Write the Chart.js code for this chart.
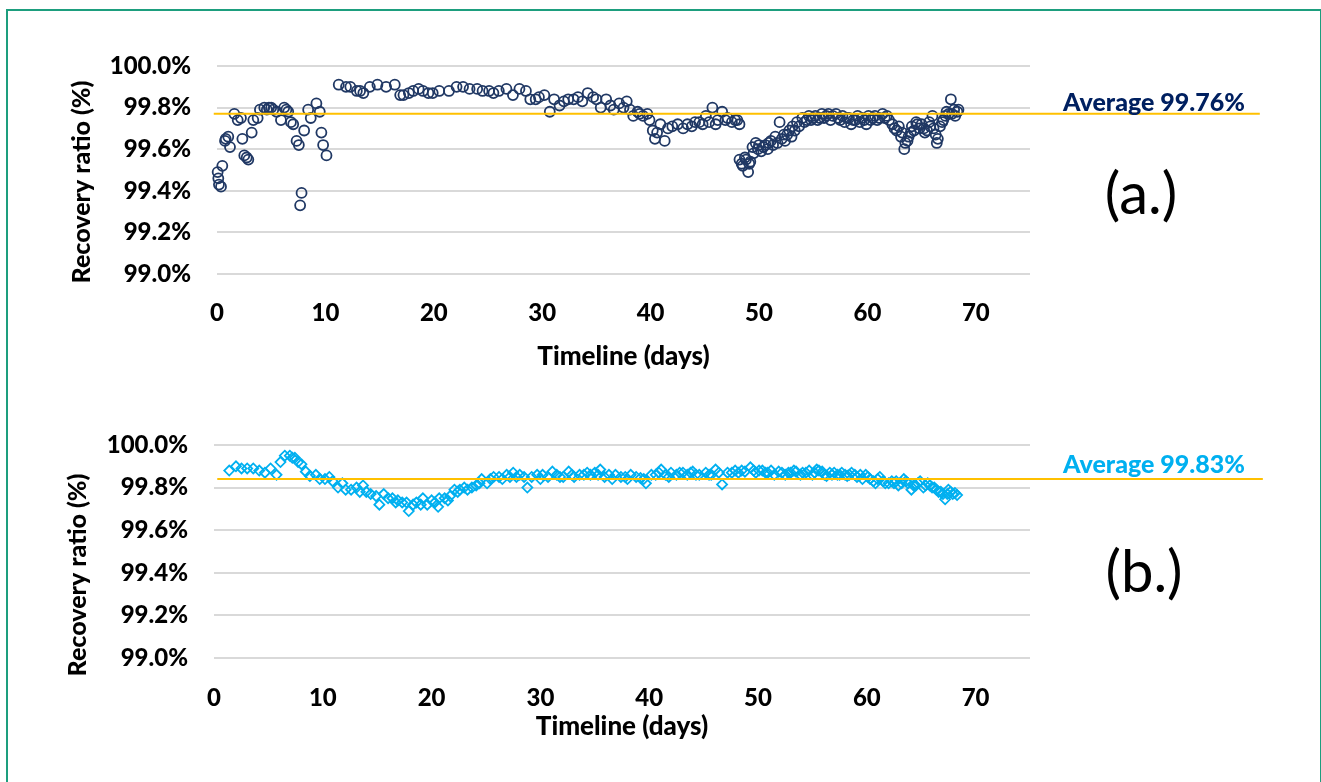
<!DOCTYPE html>
<html>
<head>
<meta charset="utf-8">
<script src="https://cdn.jsdelivr.net/npm/chart.js@4"></script>
<style>
  html, body { margin: 0; padding: 0; background: #fff; overflow: hidden; }
  #frame { position: absolute; left: 6px; top: 9px; width: 1316px; height: 800px; border: 2px solid #1d9e7e; box-sizing: border-box; }
  canvas { position: absolute; left: 0; }
  #chartA { top: 0; }
  #chartB { top: 380px; }
</style>
</head>
<body>
<div id="frame"></div>
<canvas id="chartA" width="1321" height="380"></canvas>
<canvas id="chartB" width="1321" height="402"></canvas>
<script>
// ticks
const xTicks = [0, 10, 20, 30, 40, 50, 60, 70];
const yTicks = [99.0, 99.2, 99.4, 99.6, 99.8, 100.0];

// (a.) recovery ratio, days vs %
const daysA = [
  0.06, 0.12, 0.18, 0.37, 0.49, 0.74, 0.80, 1.04, 1.20, 1.60, 1.91, 2.21, 2.34, 2.52, 2.74, 2.89,
  3.20, 3.35, 3.75, 3.96, 4.36, 4.60, 4.79, 5.00, 5.19, 5.50, 5.90, 6.20, 6.40, 6.57, 6.82, 7.03,
  7.34, 7.55, 7.67, 7.80, 8.04, 8.41, 8.65, 9.17, 9.48, 9.63, 9.79, 10.10,
  11.23, 11.9, 12.3, 12.9, 13.2, 13.5, 14.1, 14.8, 15.6, 16.4, 16.9, 17.2, 17.7, 18.1, 18.6, 19.0,
  19.5, 19.9, 20.5, 21.4, 22.1, 22.7, 23.3, 24.0, 24.5, 25.1, 25.5, 26.0, 26.7, 27.3, 27.9, 28.5,
  28.9, 29.4, 29.7, 30.2, 30.7, 31.1, 31.6, 32.0, 32.4, 32.9, 33.3, 33.7, 34.2, 34.7, 35.0, 35.4,
  35.9, 36.3, 36.6, 37.1, 37.5, 37.8, 38.1, 38.4, 38.8, 39.0, 39.3, 39.7, 39.9, 40.2, 40.4, 40.6,
  40.9, 41.3, 41.6, 42.0, 42.5, 43.0, 43.4, 43.8, 44.1, 44.5, 44.8, 45.1, 45.4, 45.7, 46.0, 46.2,
  46.6, 46.9, 47.1, 47.5, 47.8, 48.0, 48.2,
  48.2, 48.4, 48.5, 48.7, 48.8, 49.0, 49.1, 49.2, 49.4, 49.5, 49.7, 49.9, 50.0, 50.2, 50.4, 50.6,
  50.8, 50.9, 51.1, 51.3, 51.5, 51.7, 51.9, 52.1, 52.3, 52.4, 52.6, 52.8, 53.0, 53.1, 53.3, 53.5,
  53.7, 54.0, 54.2, 54.4, 54.6, 54.8, 55.0, 55.2, 55.4, 55.6, 55.8, 56.0, 56.2, 56.4, 56.6, 56.8,
  57.1, 57.3, 57.5, 57.7, 57.9, 58.1, 58.3, 58.5, 58.7, 58.9, 59.1, 59.3, 59.5, 59.7, 59.9, 60.1,
  60.3, 60.5, 60.7, 60.9, 61.1, 61.4, 61.6, 61.8, 62.0, 62.3, 62.5, 62.7, 62.9, 63.1, 63.2, 63.4,
  63.5, 63.7, 63.8, 64.0, 64.1, 64.3, 64.5, 64.6, 64.8, 65.0, 65.2, 65.3, 65.5, 65.7, 65.8, 66.0,
  66.1, 66.3, 66.4, 66.5, 66.7, 66.9, 67.0, 67.2, 67.3, 67.5, 67.7, 67.8, 68.0, 68.1, 68.3, 68.4
];
const ratioA = [
  99.49, 99.46, 99.43, 99.42, 99.52, 99.64, 99.65, 99.66, 99.61, 99.77, 99.74, 99.75, 99.65, 99.57, 99.56, 99.55,
  99.68, 99.74, 99.75, 99.79, 99.80, 99.79, 99.80, 99.80, 99.79, 99.78, 99.74, 99.80, 99.79, 99.78, 99.73, 99.72,
  99.64, 99.62, 99.33, 99.39, 99.69, 99.79, 99.75, 99.82, 99.78, 99.68, 99.62, 99.57,
  99.91, 99.90, 99.90, 99.88, 99.88, 99.87, 99.90, 99.91, 99.90, 99.91, 99.86, 99.86, 99.87, 99.88, 99.89, 99.88,
  99.87, 99.87, 99.88, 99.88, 99.90, 99.90, 99.89, 99.89, 99.88, 99.88, 99.87, 99.88, 99.89, 99.86, 99.89, 99.88,
  99.84, 99.84, 99.85, 99.86, 99.78, 99.84, 99.81, 99.83, 99.84, 99.84, 99.85, 99.83, 99.87, 99.85, 99.84, 99.80,
  99.84, 99.81, 99.79, 99.82, 99.80, 99.83, 99.79, 99.76, 99.78, 99.77, 99.76, 99.77, 99.74, 99.69, 99.65, 99.68,
  99.72, 99.64, 99.70, 99.71, 99.72, 99.70, 99.72, 99.71, 99.73, 99.73, 99.72, 99.76, 99.73, 99.80, 99.72, 99.74,
  99.78, 99.74, 99.75, 99.73, 99.74, 99.74, 99.72,
  99.55, 99.53, 99.52, 99.56, 99.55, 99.49, 99.53, 99.54, 99.61, 99.58, 99.63, 99.60, 99.62, 99.59, 99.61, 99.62,
  99.60, 99.63, 99.64, 99.62, 99.66, 99.63, 99.73, 99.65, 99.67, 99.64, 99.67, 99.69, 99.66, 99.71, 99.69, 99.73,
  99.71, 99.75, 99.73, 99.74, 99.76, 99.74, 99.75, 99.76, 99.74, 99.75, 99.77, 99.75, 99.76, 99.77, 99.74, 99.76,
  99.77, 99.75, 99.74, 99.76, 99.73, 99.75, 99.75, 99.72, 99.74, 99.74, 99.76, 99.73, 99.75, 99.74, 99.72, 99.76,
  99.74, 99.75, 99.76, 99.74, 99.75, 99.77, 99.75, 99.76, 99.74, 99.72, 99.70, 99.69, 99.71, 99.66, 99.68, 99.60,
  99.63, 99.64, 99.66, 99.68, 99.71, 99.69, 99.73, 99.72, 99.70, 99.72, 99.70, 99.68, 99.69, 99.73, 99.71, 99.76,
  99.70, 99.67, 99.63, 99.65, 99.71, 99.73, 99.74, 99.76, 99.78, 99.77, 99.84, 99.77, 99.79, 99.76, 99.78, 99.79
];

// (b.) recovery ratio, days vs %
const daysB = [
  1.40, 2.02, 2.53, 3.05, 3.61, 4.16, 4.68, 5.20, 5.75, 6.11, 6.51, 6.97, 7.20, 7.43, 7.73, 8.04,
  8.44, 8.81, 9.36, 9.72, 10.2, 10.6, 10.9, 11.4, 11.8, 12.1, 12.6, 13.1, 13.4, 13.7, 14.0, 14.4,
  14.9, 15.2, 15.6, 16.0, 16.4, 16.7, 16.9, 17.3, 17.7, 17.9, 18.3, 18.6, 19.0, 19.2, 19.6, 20.0,
  20.3, 20.6, 20.7, 21.2, 21.5, 21.7, 22.1, 22.4, 22.6, 23.0, 23.3, 23.7, 24.1, 24.4, 24.6, 25.1,
  25.4, 25.7, 26.2, 26.5, 26.9, 27.2, 27.5, 27.8, 28.1, 28.5, 28.8, 29.2, 29.7, 30.0, 30.2, 30.7,
  31.1, 31.5, 31.8, 32.1, 32.6, 32.9, 33.1, 33.6, 34.0, 34.3, 34.6, 35.0, 35.3, 35.5, 35.9, 36.3,
  36.6, 36.9, 37.4, 37.8, 38.0, 38.3, 38.8, 39.2, 39.5, 39.7, 40.2, 40.6, 40.9, 41.1, 41.5, 41.8,
  42.0, 42.5, 42.8, 43.1, 43.5, 43.8, 44.0, 44.3, 44.6, 45.2, 45.5, 45.7, 46.1, 46.4, 46.7, 47.2,
  47.6, 47.9, 48.2, 48.5, 48.8, 49.3, 49.6, 49.8, 50.1, 50.4, 50.7, 50.9, 51.2, 51.5, 51.9, 52.2,
  52.5, 52.8, 53.0, 53.3, 53.5, 53.9, 54.1, 54.4, 54.7, 55.0, 55.2, 55.4, 55.6, 55.9, 56.1, 56.3,
  56.6, 56.8, 57.0, 57.3, 57.5, 57.7, 58.0, 58.2, 58.4, 58.6, 58.9, 59.1, 59.4, 59.6, 59.9, 60.1,
  60.3, 60.6, 60.8, 61.0, 61.2, 61.5, 61.7, 62.0, 62.3, 62.5, 62.7, 62.9, 63.2, 63.4, 63.6, 63.8,
  64.1, 64.3, 64.5, 64.7, 64.9, 65.2, 65.4, 65.6, 65.8, 66.0, 66.2, 66.4, 66.6, 66.8, 67.0, 67.2,
  67.4, 67.5, 67.7, 67.9, 68.1, 68.3
];
const ratioB = [
  99.88, 99.90, 99.89, 99.89, 99.89, 99.88, 99.87, 99.89, 99.86, 99.92, 99.95, 99.95, 99.94, 99.94, 99.92, 99.91,
  99.875, 99.855, 99.86, 99.84, 99.84, 99.85, 99.83, 99.80, 99.82, 99.79, 99.79, 99.80, 99.78, 99.81, 99.78, 99.77,
  99.76, 99.72, 99.77, 99.75, 99.75, 99.73, 99.74, 99.73, 99.73, 99.69, 99.72, 99.73, 99.72, 99.75, 99.72, 99.74,
  99.73, 99.71, 99.75, 99.75, 99.74, 99.76, 99.79, 99.78, 99.79, 99.80, 99.79, 99.80, 99.81, 99.82, 99.84, 99.82,
  99.84, 99.85, 99.85, 99.84, 99.86, 99.85, 99.87, 99.85, 99.86, 99.85, 99.80, 99.85, 99.86, 99.84, 99.86, 99.85,
  99.875, 99.86, 99.85, 99.85, 99.875, 99.86, 99.85, 99.86, 99.86, 99.87, 99.86, 99.87, 99.86, 99.885, 99.85, 99.86,
  99.84, 99.86, 99.85, 99.85, 99.84, 99.86, 99.85, 99.845, 99.84, 99.82, 99.86, 99.86, 99.87, 99.885, 99.86, 99.85,
  99.87, 99.86, 99.87, 99.87, 99.86, 99.87, 99.875, 99.86, 99.86, 99.87, 99.86, 99.86, 99.885, 99.87, 99.815, 99.87,
  99.87, 99.88, 99.87, 99.88, 99.875, 99.895, 99.88, 99.87, 99.88, 99.88, 99.87, 99.87, 99.88, 99.86, 99.875, 99.87,
  99.86, 99.87, 99.87, 99.88, 99.875, 99.86, 99.87, 99.87, 99.88, 99.86, 99.87, 99.885, 99.88, 99.875, 99.86, 99.855,
  99.87, 99.86, 99.87, 99.86, 99.86, 99.87, 99.86, 99.855, 99.86, 99.87, 99.86, 99.85, 99.86, 99.84, 99.86, 99.85,
  99.84, 99.83, 99.82, 99.84, 99.85, 99.83, 99.82, 99.82, 99.83, 99.82, 99.83, 99.81, 99.82, 99.84, 99.83, 99.82,
  99.79, 99.81, 99.81, 99.82, 99.83, 99.80, 99.81, 99.82, 99.81, 99.80, 99.80, 99.79, 99.78, 99.78, 99.77, 99.745,
  99.77, 99.79, 99.78, 99.77, 99.775, 99.765
];

// average lines (where they sit on the y axis) and their labels
const avgA = 99.77;
const avgB = 99.84;
const avgLabelA = 'Average 99.76%';
const avgLabelB = 'Average 99.83%';

const FONT = 'Lato';
Chart.defaults.font.family = FONT;
Chart.defaults.color = '#000';

// extra text outside the plot: rotated y title, average label, panel letter
const panelText = {
  id: 'panelText',
  afterDraw(chart, args, o) {
    const ctx = chart.ctx;
    ctx.save();
    ctx.fillStyle = '#000';
    ctx.font = '900 25px ' + FONT;
    ctx.textAlign = 'center';
    ctx.textBaseline = 'middle';
    ctx.translate(o.yTitleX, o.yTitleY);
    ctx.rotate(-Math.PI / 2);
    ctx.fillText('Recovery ratio (%)', 0, 0);
    ctx.restore();

    ctx.save();
    ctx.fillStyle = o.avgColor;
    ctx.font = '900 25px ' + FONT;
    ctx.textAlign = 'center';
    ctx.textBaseline = 'alphabetic';
    ctx.fillText(o.avgText, 1154, o.avgBaseline);
    ctx.fillStyle = '#000';
    ctx.font = '58px ' + FONT;
    ctx.fillText(o.letter, o.letterX, o.letterBaseline);
    ctx.restore();
  }
};

function makeChart(id, days, ratio, avg, style) {
  const points = days.map((d, i) => ({ x: d, y: ratio[i] }));
  return new Chart(document.getElementById(id), {
    type: 'scatter',
    data: {
      datasets: [
        {
          data: [{ x: style.avgFrom, y: avg }, { x: style.avgTo, y: avg }],
          showLine: true,
          borderColor: '#ffc000',
          borderWidth: 2,
          pointRadius: 0,
          clip: false
        },
        {
          data: points,
          pointStyle: style.pointStyle,
          pointRadius: style.pointRadius,
          pointBorderWidth: 1.8,
          borderColor: style.color,
          backgroundColor: 'rgba(0,0,0,0)',
          clip: false
        }
      ]
    },
    options: {
      responsive: false,
      animation: false,
      layout: { padding: { top: style.top, left: 0, right: style.right, bottom: 0 } },
      plugins: {
        legend: { display: false },
        tooltip: { enabled: false },
        panelText: style.text
      },
      scales: {
        x: {
          type: 'linear',
          min: 0,
          max: 75,
          afterBuildTicks: s => { s.ticks = xTicks.map(v => ({ value: v })); },
          afterFit: s => { s.height = style.xHeight; },
          grid: { display: false },
          border: { display: false },
          ticks: { padding: style.xTickPad, font: { size: 24, weight: 900 } },
          title: {
            display: true,
            text: 'Timeline (days)',
            font: { size: 26, weight: 900 },
            padding: { top: 0, bottom: style.xTitlePad }
          }
        },
        y: {
          min: 99,
          max: 100,
          afterBuildTicks: s => { s.ticks = yTicks.map(v => ({ value: v })); },
          afterFit: s => { s.width = style.left; },
          grid: { color: '#d9d9d9', lineWidth: 2, drawTicks: false },
          border: { display: false },
          ticks: {
            padding: 26,
            font: { size: 24, weight: 900 },
            callback: v => v.toFixed(1) + '%'
          }
        }
      }
    },
    plugins: [panelText]
  });
}

function draw() {
  makeChart('chartA', daysA, ratioA, avgA, {
    color: '#203864', pointStyle: 'circle', pointRadius: 5,
    top: 66, left: 217, right: 291, xHeight: 106, xTickPad: 16.6, xTitlePad: 7.4,
    avgFrom: -0.3, avgTo: 96.2,
    text: { yTitleX: 82, yTitleY: 182, avgColor: '#002060', avgText: avgLabelA, avgBaseline: 111,
            letter: '(a.)', letterX: 1141, letterBaseline: 214 }
  });
  makeChart('chartB', daysB, ratioB, avgB, {
    color: '#00b0f0', pointStyle: 'rectRot', pointRadius: 5,
    top: 65, left: 214, right: 291, xHeight: 124, xTickPad: 17.6, xTitlePad: 39.5,
    avgFrom: 0.3, avgTo: 96.4,
    text: { yTitleX: 78, yTitleY: 195, avgColor: '#00b0f0', avgText: avgLabelB, avgBaseline: 93,
            letter: '(b.)', letterX: 1144, letterBaseline: 212 }
  });
}

Promise.all([
  document.fonts.load('900 24px Lato'),
  document.fonts.load('58px Lato')
]).then(draw, draw);
</script>
</body>
</html>
